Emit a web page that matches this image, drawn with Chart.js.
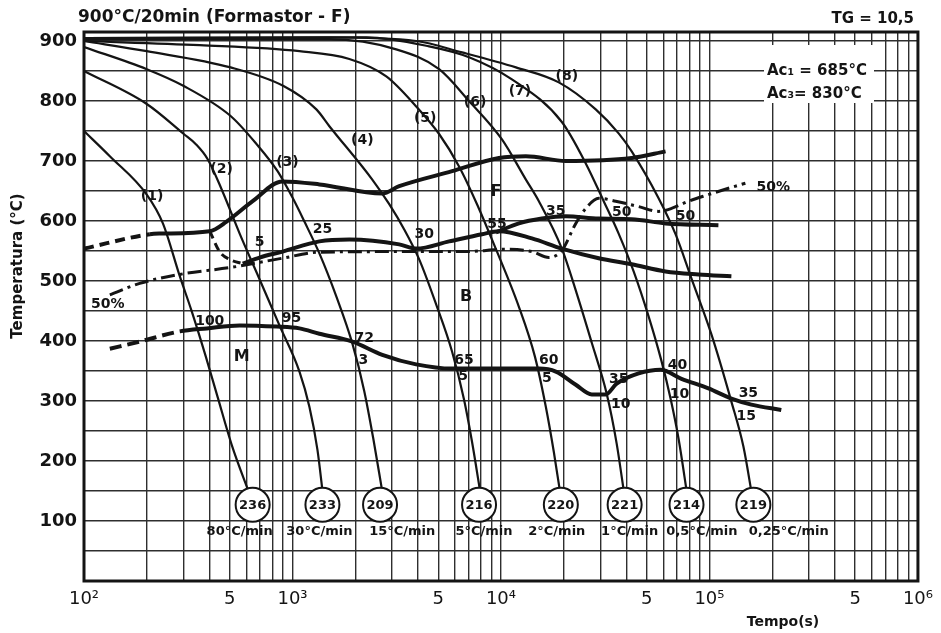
<!DOCTYPE html>
<html>
<head>
<meta charset="utf-8">
<title>CCT 900°C/20min</title>
<script src="https://cdn.jsdelivr.net/npm/chart.js@4.4.1/dist/chart.umd.min.js"></script>
<style>
  html, body { margin: 0; padding: 0; background: #fff; }
  #wrap { position: relative; width: 941px; height: 633px; }
</style>
</head>
<body>
<div id="wrap"><canvas id="cct"></canvas></div>
<script>
// ---- cooling curves: time (s) / temperature (°C) ----
const curve1Time = [100, 133, 200, 239, 288, 329, 384, 438, 511, 630];
const curve1Temp = [750, 708, 644, 596, 508, 449, 374, 306, 227, 140];
const curve2Time = [100, 200, 301, 344, 392, 457, 558, 695, 866, 1080, 1206, 1317, 1404];
const curve2Temp = [850, 795, 745, 728, 703, 653, 579, 503, 426, 349, 290, 219, 140];
const curve3Time = [100, 200, 301, 505, 673, 848, 1000, 1141, 1346, 1624, 1937, 2211, 2442, 2696];
const curve3Temp = [890, 853, 825, 775, 728, 683, 639, 599, 546, 474, 396, 316, 237, 149];
const curve4Time = [100, 200, 505, 906, 1302, 1503, 2414, 2911, 3435, 4053, 4887, 5830, 6653, 7263, 8024];
const curve4Temp = [900, 883, 856, 825, 786, 758, 669, 628, 586, 536, 461, 382, 302, 232, 140];
const curve5Time = [100, 359, 1080, 1874, 2818, 3920, 5050, 6295, 7676, 9258, 12190, 14550, 16420, 17930, 19370];
const curve5Temp = [900, 893, 883, 870, 841, 791, 745, 691, 628, 561, 457, 374, 290, 215, 140];
const curve6Time = [100, 1503, 3145, 5050, 7028, 10110, 13170, 15200, 19590, 23100, 27260, 32150, 35890, 39190];
const curve6Temp = [903, 903, 886, 853, 800, 736, 669, 633, 554, 479, 397, 312, 229, 140];
const curve7Time = [100, 2260, 4523, 7028, 11287, 19590, 25510, 31100, 36680, 43290, 51060, 58930, 65080, 71100, 78500];
const curve7Temp = [905, 906, 891, 873, 836, 765, 696, 633, 579, 516, 441, 366, 304, 237, 140];
const curve8Time = [100, 1503, 3920, 6508, 11800, 18940, 28480, 36680, 42360, 57020, 68760, 82020, 102200, 127400, 145500, 160600];
const curve8Temp = [905, 906, 900, 881, 856, 831, 786, 746, 716, 638, 578, 504, 411, 299, 224, 140];

const curveTimes = [curve1Time, curve2Time, curve3Time, curve4Time, curve5Time, curve6Time, curve7Time, curve8Time];
const curveTemps = [curve1Temp, curve2Temp, curve3Temp, curve4Temp, curve5Temp, curve6Temp, curve7Temp, curve8Temp];

// ---- hardness (HV) at the end of each cooling curve ----
const hardness = [236, 233, 209, 216, 220, 221, 214, 219];
const hardnessTime = [644, 1392, 2630, 7849, 19370, 39190, 77620, 162400];
const hardnessTemp = 127;
const coolingRates = ['80°C/min', '30°C/min', '15°C/min', '5°C/min', '2°C/min', '1°C/min', '0,5°C/min', '0,25°C/min'];
const rateLabelTime = [558, 1346, 3360, 8293, 18530, 41420, 92000, 240000];
const rateLabelTemp = 82;

// ---- transformation lines ----
const ferriteStartTime = [100, 207, 231, 401, 483, 644, 896, 1346, 2696, 3251, 5830, 9781, 13170, 20460, 42360, 61580];
const ferriteStartTemp = [554, 578, 579, 583, 599, 633, 666, 661, 646, 658, 683, 705, 708, 700, 705, 716];
const ferriteDropTime = [401, 447, 499, 577];
const ferriteDropTemp = [583, 549, 536, 529];
const bainiteStartTime = [577, 695, 896, 1346, 1874, 3251, 3920, 5639, 8110, 9781, 14070, 19590, 29430, 42360, 61580, 88590, 127400];
const bainiteStartTemp = [529, 539, 549, 566, 569, 561, 554, 566, 578, 583, 571, 554, 538, 528, 516, 511, 508];
const upperBranchTime = [9464, 12190, 15710, 20460, 29430, 42360, 61580, 110400];
const upperBranchTemp = [581, 596, 604, 608, 604, 603, 596, 593];
const halfTime = [133, 185, 288, 516, 896, 1346, 3251, 6802, 10566, 14070, 16970, 19590, 22850, 25510, 29430, 35500, 45740, 57020, 65800, 79340, 98900, 127400, 148700];
const halfTemp = [477, 496, 511, 523, 538, 548, 549, 549, 553, 549, 539, 551, 596, 621, 638, 633, 624, 616, 621, 633, 644, 656, 663];
const martensiteStartTime = [133, 185, 288, 388, 558, 838, 1080, 1346, 1937, 2696, 3920, 5830, 9781, 15200, 18330, 22850, 27260, 31790, 35890, 45740, 58290, 73450, 98900, 127400, 158900, 221100];
const martensiteStartTemp = [387, 399, 416, 421, 426, 424, 421, 412, 399, 377, 361, 354, 354, 354, 349, 327, 311, 311, 329, 346, 352, 337, 321, 304, 294, 285];

// ---- axes ----
const timeTickValues = [100, 500, 1000, 5000, 10000, 50000, 100000, 500000, 1000000];
const timeTickLabels = ['10²', '5', '10³', '5', '10⁴', '5', '10⁵', '5', '10⁶'];
const tempTickValues = [100, 200, 300, 400, 500, 600, 700, 800, 900];

// ---- text on the plot: [text, time, temperature] ----
const curveNames = [['(1)', 212, 641], ['(2)', 457, 686], ['(3)', 946, 698], ['(4)', 2163, 735],
  ['(5)', 4329, 771], ['(6)', 7509, 798], ['(7)', 12330, 816], ['(8)', 20700, 841]];
const phaseNames = [['F', 9460, 649], ['B', 6800, 474], ['M', 570, 374]];
const percentNotes = [['5', 695, 564], ['25', 1392, 586], ['30', 4281, 578], ['55', 9570, 594],
  ['35', 18330, 616], ['50', 37920, 614], ['50', 76800, 608], ['50%', 202400, 656], ['50%', 130, 461],
  ['100', 401, 432], ['95', 989, 437], ['72', 2211, 404], ['3', 2186, 367], ['65', 6653, 367],
  ['5', 6580, 341], ['60', 16970, 367], ['5', 16600, 337], ['35', 36680, 336], ['10', 37510, 295],
  ['40', 70300, 359], ['10', 71870, 311], ['35', 153700, 312], ['15', 150300, 274]];

const FONT = '"DejaVu Sans", sans-serif';
const INK = '#141414';
const GRID = '#2e2e2e';

function points(times, temps) {
  return times.map((t, i) => ({ x: t, y: temps[i] }));
}

function trace(label, times, temps, extra) {
  return Object.assign({
    label,
    data: points(times, temps),
    borderColor: INK,
    borderWidth: 4,
    pointRadius: 0,
    cubicInterpolationMode: 'monotone',
    fill: false,
  }, extra || {});
}

// vertical grid: every 1..9 × decade
const timeGrid = [];
for (let e = 2; e < 6; e++) {
  for (let m = 1; m < 10; m++) {
    timeGrid.push(m * Math.pow(10, e));
  }
}
timeGrid.push(1e6);

const datasets = [
  {
    label: 'hardness',
    data: hardnessTime.map((t) => ({ x: t, y: hardnessTemp })),
    showLine: false,
    pointRadius: 17,
    pointHoverRadius: 17,
    pointBackgroundColor: '#fff',
    pointBorderColor: INK,
    pointBorderWidth: 2,
    order: -1,
  },
];

curveTimes.forEach((times, i) => {
  datasets.push(trace('curve ' + (i + 1), times, curveTemps[i], { borderWidth: 2.2 }));
});

datasets.push(trace('ferrite start', ferriteStartTime, ferriteStartTemp, {
  segment: { borderDash: (ctx) => (ctx.p0DataIndex < 1 ? [10, 6] : undefined) },
}));
datasets.push(trace('ferrite drop', ferriteDropTime, ferriteDropTemp, { borderWidth: 3, borderDash: [8, 5] }));
datasets.push(trace('bainite start', bainiteStartTime, bainiteStartTemp));
datasets.push(trace('upper branch', upperBranchTime, upperBranchTemp));
datasets.push(trace('50 %', halfTime, halfTemp, { borderWidth: 3, borderDash: [14, 5, 3, 5] }));
datasets.push(trace('martensite start', martensiteStartTime, martensiteStartTemp, {
  segment: { borderDash: (ctx) => (ctx.p0DataIndex < 2 ? [12, 6] : undefined) },
}));

function text(ctx, str, x, y, font, align) {
  ctx.font = font;
  ctx.textAlign = align || 'center';
  ctx.textBaseline = 'middle';
  ctx.fillText(str, x, y);
}

const sketchLayer = {
  id: 'sketchLayer',
  beforeDraw(chart) {
    const { ctx, width, height } = chart;
    ctx.save();
    ctx.fillStyle = '#fff';
    ctx.fillRect(0, 0, width, height);
    ctx.restore();
  },
  beforeDatasetsDraw(chart) {
    const { ctx } = chart;
    ctx.save();
    // critical temperatures, lettered over a cleared patch of grid
    ctx.fillStyle = '#fff';
    ctx.fillRect(764, 45, 110, 58);
    ctx.fillStyle = INK;
    text(ctx, 'Ac₁ = 685°C', 767, 71, 'bold 15px ' + FONT, 'left');
    text(ctx, 'Ac₃= 830°C', 767, 94, 'bold 15px ' + FONT, 'left');
    ctx.restore();
  },
  afterDatasetsDraw(chart) {
    const { ctx, chartArea: area, scales } = chart;
    const px = (t) => scales.x.getPixelForValue(t);
    const py = (T) => scales.y.getPixelForValue(T);
    ctx.save();

    ctx.strokeStyle = INK;
    ctx.lineWidth = 3;
    ctx.strokeRect(area.left, area.top, area.right - area.left, area.bottom - area.top);

    ctx.fillStyle = INK;
    hardness.forEach((hv, i) => {
      text(ctx, String(hv), px(hardnessTime[i]), py(hardnessTemp) + 1, 'bold 13px ' + FONT);
    });
    coolingRates.forEach((rate, i) => {
      text(ctx, rate, px(rateLabelTime[i]), py(rateLabelTemp), 'bold 13px ' + FONT);
    });
    curveNames.forEach(([s, t, T]) => text(ctx, s, px(t), py(T), 'bold 14px ' + FONT));
    phaseNames.forEach(([s, t, T]) => text(ctx, s, px(t), py(T), 'bold 16px ' + FONT));
    percentNotes.forEach(([s, t, T]) => text(ctx, s, px(t), py(T), 'bold 14px ' + FONT));

    text(ctx, '900°C/20min (Formastor - F)', 78, 18, 'bold 17px ' + FONT, 'left');
    text(ctx, 'TG = 10,5', 914, 19, 'bold 15px ' + FONT, 'right');
    text(ctx, 'Tempo(s)', 783, 622, 'bold 14px ' + FONT);

    ctx.translate(18, 266);
    ctx.rotate(-Math.PI / 2);
    text(ctx, 'Temperatura (°C)', 0, 0, 'bold 15px ' + FONT);
    ctx.restore();
  },
};

new Chart(document.getElementById('cct'), {
  type: 'line',
  data: { datasets },
  options: {
    responsive: true,
    maintainAspectRatio: false,
    animation: false,
    devicePixelRatio: 1,
    layout: { padding: { top: 32, right: 21, left: 0, bottom: 0 } },
    plugins: { legend: { display: false }, tooltip: { enabled: false } },
    scales: {
      x: {
        type: 'logarithmic',
        min: 100,
        max: 1e6,
        afterBuildTicks: (scale) => { scale.ticks = timeGrid.map((v) => ({ value: v })); },
        afterFit: (scale) => { scale.height = 52; },
        ticks: {
          autoSkip: false,
          maxRotation: 0,
          padding: 8,
          color: INK,
          font: { family: FONT, size: 18 },
          callback: (v) => {
            const i = timeTickValues.findIndex((tv) => Math.abs(tv - v) < tv * 1e-6);
            return i < 0 ? '' : timeTickLabels[i];
          },
        },
        grid: { color: GRID, lineWidth: 1.4, drawTicks: false },
        border: { display: false },
      },
      y: {
        min: 0,
        max: 915,
        afterFit: (scale) => { scale.width = 84; },
        ticks: {
          stepSize: 50,
          includeBounds: false,
          padding: 7,
          color: INK,
          font: { family: FONT, size: 18, weight: 'bold' },
          callback: (v) => (tempTickValues.includes(v) ? String(v) : ''),
        },
        grid: { color: GRID, lineWidth: 1.4, drawTicks: false },
        border: { display: false },
      },
    },
  },
  plugins: [sketchLayer],
});
</script>
</body>
</html>
